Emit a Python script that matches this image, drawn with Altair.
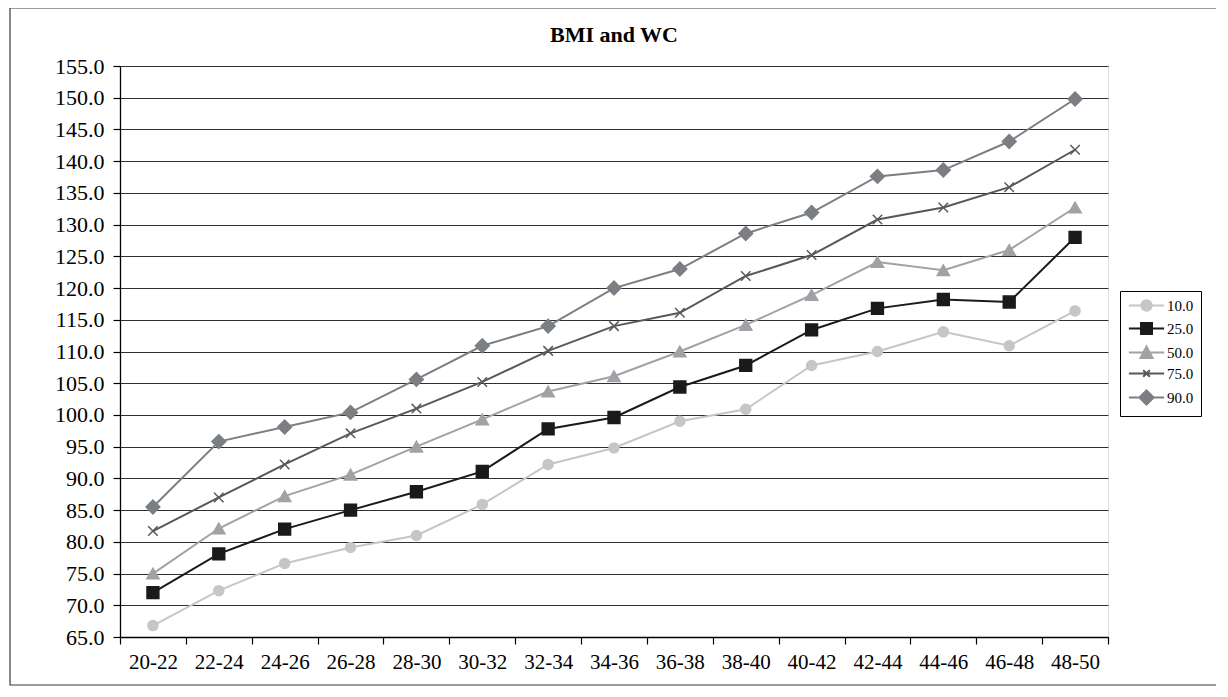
import altair as alt
import pandas as pd

categories = ["20-22", "22-24", "24-26", "26-28", "28-30", "30-32", "32-34", "34-36",
              "36-38", "38-40", "40-42", "42-44", "44-46", "46-48", "48-50"]
series_names = ["10.0", "25.0", "50.0", "75.0", "90.0"]

p10 = [66.8, 72.3, 76.6, 79.1, 81.0, 85.9, 92.2, 94.8, 99.0, 100.9, 107.8, 110.0, 113.1, 110.9, 116.4]
p25 = [72.0, 78.1, 82.0, 85.0, 87.9, 91.1, 97.8, 99.6, 104.4, 107.8, 113.4, 116.8, 118.2, 117.8, 128.0]
p50 = [75.0, 82.1, 87.2, 90.6, 95.0, 99.3, 103.7, 106.1, 110.0, 114.2, 118.9, 124.1, 122.8, 126.0, 132.7]
p75 = [81.7, 87.0, 92.2, 97.1, 101.0, 105.2, 110.1, 114.0, 116.1, 121.9, 125.2, 130.8, 132.7, 135.9, 141.8]
p90 = [85.5, 95.8, 98.1, 100.4, 105.6, 110.9, 114.0, 120.0, 123.0, 128.6, 131.9, 137.6, 138.6, 143.1, 149.8]
all_values = [p10, p25, p50, p75, p90]

y_ticks = [65, 70, 75, 80, 85, 90, 95, 100, 105, 110, 115, 120, 125, 130, 135, 140, 145, 150, 155]

series_colors = ["#c5c6c9", "#1b191a", "#a0a2a6", "#58585c", "#7b7e83"]
point_shapes = ["circle", "square", "triangle-up", "M-1,-1L1,1M1,-1L-1,1", "diamond"]
point_sizes = [100, 140, 150, 90, 190]
legend_shapes = [
    "M-3.2,0H3.2M0.95,0A0.95,0.95 0 1 1 -0.95,0A0.95,0.95 0 1 1 0.95,0Z",
    "M-3.2,0H3.2M-1,-1H1V1H-1Z",
    "M-3.2,0H3.2M0,-1.1L1.1,1L-1.1,1Z",
    "M-3.2,0H3.2M-0.6,-0.6L0.6,0.6M0.6,-0.6L-0.6,0.6",
    "M-3.2,0H3.2M0,-1.3L1.3,0L0,1.3L-1.3,0Z",
]

rows = []
for name, vals in zip(series_names, all_values):
    for cat, v in zip(categories, vals):
        rows.append({"category": cat, "series": name, "key": name, "value": v})
df = pd.DataFrame(rows)

FONT = "'Liberation Serif', 'Times New Roman', Times, 'DejaVu Serif', serif"

x_enc = alt.X(
    "category:N",
    sort=categories,
    scale=alt.Scale(type="band", domain=categories, paddingInner=0, paddingOuter=0),
    axis=alt.Axis(title=None, labelAngle=0, tickBand="extent", tickSize=7,
                  labelPadding=7, labelFontSize=21, labelFont=FONT, labelColor="#000000",
                  domainColor="#000000", tickColor="#000000", domainWidth=1.3,
                  tickWidth=1.2, grid=False),
)
y_enc = alt.Y(
    "value:Q",
    scale=alt.Scale(domain=[65, 155], nice=False, zero=False),
    axis=alt.Axis(title=None, values=y_ticks, format=".1f", tickSize=7, labelPadding=9,
                  labelFontSize=22, labelFont=FONT, labelColor="#000000",
                  domainColor="#000000", tickColor="#000000",
                  domainWidth=1.3, tickWidth=1.2, grid=True, gridColor="#303030",
                  gridWidth=1.2, gridOpacity=1),
)

color_scale = alt.Scale(domain=series_names, range=series_colors)

lines = alt.Chart(df).mark_line(strokeWidth=2).encode(
    x=x_enc, y=y_enc,
    color=alt.Color("series:N", scale=color_scale, legend=None),
)

points = alt.Chart(df).mark_point(filled=True, opacity=1, strokeWidth=1.5).encode(
    x=x_enc, y=y_enc,
    color=alt.Color("series:N", scale=color_scale, legend=None),
    stroke=alt.Stroke("series:N", scale=color_scale, legend=None),
    shape=alt.Shape("series:N", scale=alt.Scale(domain=series_names, range=point_shapes), legend=None),
    size=alt.Size("series:N", scale=alt.Scale(type="ordinal", domain=series_names, range=point_sizes), legend=None),
)

leg = alt.Legend(
    title=None, orient="none", legendX=1000, legendY=225,
    labelFont=FONT, labelFontSize=15, labelColor="#000000",
    strokeColor="#000000", fillColor="#ffffff", padding=7,
    symbolSize=121, symbolOpacity=1, symbolStrokeWidth=2,
    symbolOffset=12, labelOffset=13, rowPadding=4,
)

legend_layer = alt.Chart(df).mark_point(filled=True, opacity=0).encode(
    x=x_enc, y=y_enc,
    color=alt.Color("key:N", scale=color_scale, legend=leg),
    stroke=alt.Stroke("key:N", scale=color_scale, legend=leg),
    shape=alt.Shape("key:N", scale=alt.Scale(domain=series_names, range=legend_shapes), legend=leg),
)

frame = alt.Chart(pd.DataFrame({"a": [0]})).mark_rect(
    fillOpacity=0, stroke="#3a3a3a", strokeWidth=1.2
).encode(
    x=alt.value(-110), x2=alt.value(1098), y=alt.value(-58), y2=alt.value(619)
)

chart = alt.layer(frame, lines, points, legend_layer).resolve_scale(
    color="independent", stroke="independent", shape="independent", size="independent"
).properties(
    width=988, height=571,
    title=alt.TitleParams("BMI and WC", font=FONT, fontSize=22, fontWeight="bold",
                          color="#000000", anchor="middle", frame="group", offset=-40),
    autosize=alt.AutoSizeParams(type="none"),
    padding={"left": 112, "top": 58, "right": 108, "bottom": 50},
).configure_view(
    stroke="#868686", strokeWidth=1.5
).configure_axis(
    labelFont=FONT, labelColor="#000000"
).configure_legend(
    labelFont=FONT
).configure_title(
    font=FONT
).configure(background="#ffffff")

chart.save("out.html", embed_options={"renderer": "svg", "actions": False})
